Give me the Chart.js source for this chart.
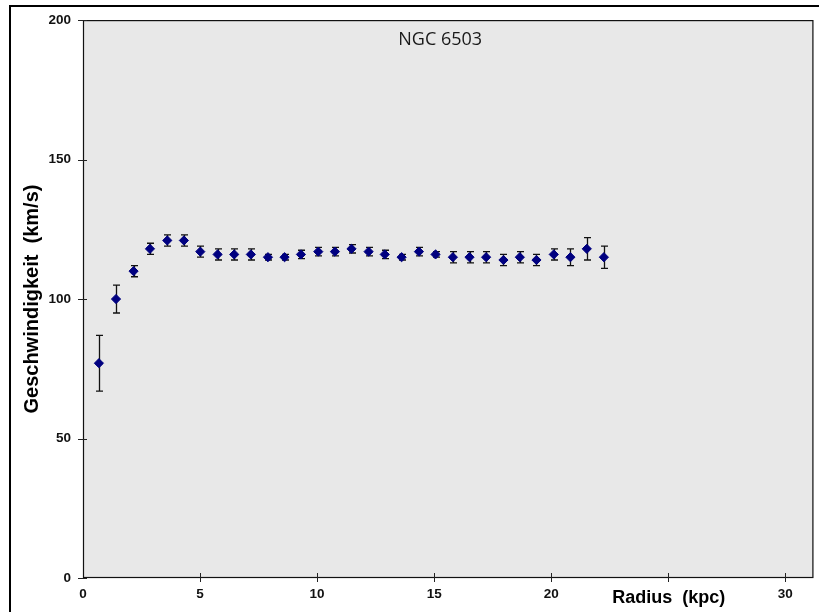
<!DOCTYPE html>
<html>
<head>
<meta charset="utf-8">
<script src="https://cdn.jsdelivr.net/npm/chart.js@4"></script>
<style>
  body { margin: 0; background: #fff; }
  #wrap { position: relative; width: 819px; height: 612px; overflow: hidden; }
  #frame { position: absolute; left: 9px; top: 5px; width: 900px; height: 700px;
           border-left: 2px solid #000; border-top: 2px solid #000; pointer-events: none; }
  canvas { position: absolute; left: 0; top: 0; }
</style>
</head>
<body>
<div id="wrap">
  <canvas id="myChart" width="819" height="612"></canvas>
  <div id="frame"></div>
</div>
<script>
// rotation curve NGC 6503
const radius = [0.68, 1.41, 2.16, 2.86, 3.60, 4.31, 5.01, 5.75, 6.46, 7.17, 7.90, 8.61, 9.31, 10.05, 10.76,
                11.47, 12.20, 12.89, 13.61, 14.35, 15.06, 15.80, 16.51, 17.22, 17.96, 18.66, 19.37, 20.11, 20.82, 21.52, 22.25];
const velocity = [77, 100, 110, 118, 121, 121, 117, 116, 116, 116, 115, 115, 116, 117, 117,
                  118, 117, 116, 115, 117, 116, 115, 115, 115, 114, 115, 114, 116, 115, 118, 115];
const velocityErr = [10, 5, 2, 2, 2, 2, 2, 2, 2, 2, 1, 1, 1.5, 1.5, 1.5,
                     1.5, 1.5, 1.5, 1, 1.5, 1, 2, 2, 2, 2, 2, 2, 2, 3, 4, 4];
const xTicks = [0, 5, 10, 15, 20, 25, 30];
const yTicks = [0, 50, 100, 150, 200];
const hiddenXLabel = 25; // covered by the axis title in the original

const chartTitle = 'NGC 6503';
const xTitle = 'Radius  (kpc)';
const yTitle = 'Geschwindigkeit  (km/s)';

const points = radius.map((r, i) => ({ x: r, y: velocity[i], err: velocityErr[i] }));

// grey plot background + frame, crossing tick marks, error bars, titles
const extras = {
    id: 'extras',
    beforeDraw(chart) {
        const { ctx, chartArea: a } = chart;
        ctx.save();
        ctx.fillStyle = '#e8e8e8';
        ctx.fillRect(a.left, a.top, a.right - a.left, a.bottom - a.top);
        ctx.restore();
    },
    beforeDatasetsDraw(chart) {
        const { ctx, chartArea: a, scales } = chart;
        ctx.save();
        ctx.strokeStyle = '#111';
        ctx.lineWidth = 1.2;
        ctx.strokeRect(a.left + 0.5, a.top + 0.5, a.right - a.left - 1, a.bottom - a.top - 1);
        ctx.strokeStyle = '#222';
        ctx.lineWidth = 1;
        ctx.beginPath();
        xTicks.forEach(v => {
            if (v === 0) return;
            const px = Math.round(scales.x.getPixelForValue(v)) + 0.5;
            ctx.moveTo(px, a.bottom - 5);
            ctx.lineTo(px, a.bottom + 4);
        });
        yTicks.forEach(v => {
            const py = Math.round(scales.y.getPixelForValue(v)) + 0.5;
            ctx.moveTo(a.left - 5, py);
            ctx.lineTo(a.left + 4, py);
        });
        ctx.stroke();

        // error bars
        ctx.strokeStyle = '#111';
        ctx.lineWidth = 1.3;
        ctx.beginPath();
        points.forEach(p => {
            const px = Math.round(scales.x.getPixelForValue(p.x)) + 0.5;
            const top = scales.y.getPixelForValue(p.y + p.err);
            const bot = scales.y.getPixelForValue(p.y - p.err);
            ctx.moveTo(px, top); ctx.lineTo(px, bot);
            ctx.moveTo(px - 3.5, top); ctx.lineTo(px + 3.5, top);
            ctx.moveTo(px - 3.5, bot); ctx.lineTo(px + 3.5, bot);
        });
        ctx.stroke();
        ctx.restore();
    },
    afterDraw(chart) {
        const { ctx, chartArea: a } = chart;
        ctx.save();
        ctx.fillStyle = '#1a1a1a';
        ctx.font = '18px "Open Sans", sans-serif';
        ctx.textAlign = 'center';
        ctx.textBaseline = 'middle';
        ctx.fillText(chartTitle, a.left + (a.right - a.left) * 0.489, a.top + 20);

        ctx.fillStyle = '#000';
        ctx.font = 'bold 18px "Liberation Sans", Arial, sans-serif';
        ctx.fillText(xTitle, a.left + (a.right - a.left) * 0.802, a.bottom + 20);
        ctx.restore();
    }
};

const ctx = document.getElementById('myChart');
new Chart(ctx.getContext('2d'), {
    type: 'scatter',
    data: {
        datasets: [{
            label: chartTitle,
            data: points,
            pointStyle: 'rectRot',
            pointRadius: 4.6,
            pointHoverRadius: 4.6,
            backgroundColor: '#000080',
            borderColor: '#000080',
            borderWidth: 1
        }]
    },
    options: {
        responsive: false,
        animation: false,
        devicePixelRatio: 1,
        layout: { padding: { top: 20, right: 5, bottom: 0, left: 0 } },
        plugins: {
            legend: { display: false },
            tooltip: { enabled: false }
        },
        scales: {
            x: {
                type: 'linear',
                min: 0,
                max: 31.2,
                grid: { display: false, drawTicks: false },
                border: { display: false },
                afterBuildTicks: scale => { scale.ticks = xTicks.map(v => ({ value: v })); },
                ticks: {
                    padding: 8,
                    color: '#111',
                    font: { family: '"Liberation Sans", Arial, sans-serif', size: 13.5, weight: 'bold' },
                    maxRotation: 0,
                    callback: v => (v === hiddenXLabel ? '' : v)
                },
                afterFit: scale => { scale.height = 34; }
            },
            y: {
                type: 'linear',
                min: 0,
                max: 200,
                grid: { display: false, drawTicks: false },
                border: { display: false },
                afterBuildTicks: scale => { scale.ticks = yTicks.map(v => ({ value: v })); },
                ticks: {
                    padding: 12,
                    color: '#111',
                    font: { family: '"Liberation Sans", Arial, sans-serif', size: 13.5, weight: 'bold' }
                },
                title: {
                    display: true,
                    text: yTitle,
                    color: '#000',
                    padding: { top: 20, bottom: 0 },
                    font: { family: '"Liberation Sans", Arial, sans-serif', size: 20, weight: 'bold' }
                },
                afterFit: scale => { scale.width = 83; }
            }
        }
    },
    plugins: [extras]
});
</script>
</body>
</html>
